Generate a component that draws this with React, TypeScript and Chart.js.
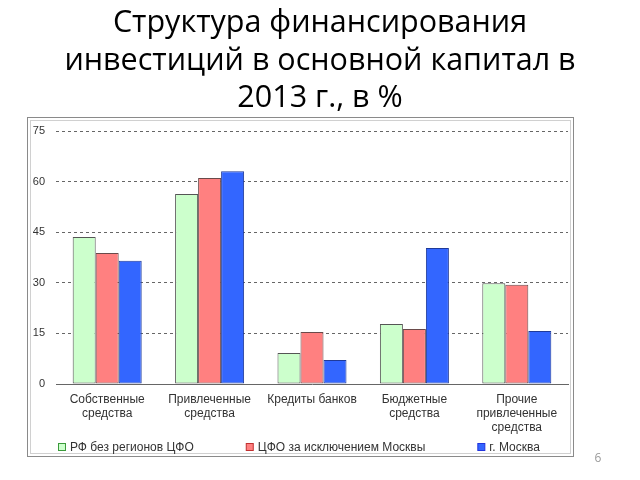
import { useEffect, useRef } from "react";
import { Chart, registerables } from "chart.js";

Chart.register(...registerables);

const titleLines = ["Структура финансирования", "инвестиций в основной капитал в", "2013 г., в %"];
const categories = [
  ["Собственные", "средства"],
  ["Привлеченные", "средства"],
  ["Кредиты банков"],
  ["Бюджетные", "средства"],
  ["Прочие", "привлеченные", "средства"],
];
const seriesNames = ["РФ без регионов ЦФО", "ЦФО за исключением Москвы", "г. Москва"];
const rfValues = [43.6, 56.3, 9.2, 17.8, 29.9];
const cfoValues = [38.8, 61.1, 15.4, 16.3, 29.4];
const moscowValues = [36.5, 63.1, 7.1, 40.3, 15.7];
const yMin = 0;
const yMax = 75;
const yStep = 15;
const pageNumber = "6";

const fills = ["#CCFFCC", "#FF8080", "#3366FF"];
const borders = ["#555555", "#6a4a4a", "#1f3a99"];
const legendBorders = ["#3a9a3a", "#c03030", "#2233dd"];

const decorPlugin = {
  id: "decor",
  beforeDraw(chart: any) {
    const ctx = chart.ctx;
    ctx.save();
    ctx.fillStyle = "#ffffff";
    ctx.fillRect(0, 0, chart.width, chart.height);
    // frame
    ctx.strokeStyle = "#8a8a8a";
    ctx.lineWidth = 1;
    ctx.strokeRect(27.5, 117.5, 546, 339);
    ctx.strokeStyle = "#d0d0d0";
    ctx.strokeRect(30.5, 120.5, 540, 333);
    // title
    ctx.fillStyle = "#000000";
    ctx.font = "30.5px 'Open Sans'";
    ctx.textAlign = "center";
    ctx.textBaseline = "alphabetic";
    const baselines = [32, 70, 107];
    titleLines.forEach((t, i) => ctx.fillText(t, 320, baselines[i]));
    // page number
    ctx.fillStyle = "#9a9a9a";
    ctx.font = "12px 'Open Sans'";
    ctx.fillText(pageNumber, 598, 462);
    ctx.restore();
  },
  afterDraw(chart: any) {
    // legend
    const ctx = chart.ctx;
    ctx.save();
    ctx.font = "12px 'Liberation Sans'";
    ctx.textBaseline = "middle";
    ctx.textAlign = "left";
    const box = 8;
    const gapText = 4;
    const gapItems = 52;
    const names = chart.data.datasets.map((d: any) => d.label);
    const widths = names.map((n: string) => box + gapText + ctx.measureText(n).width);
    let x = Math.round(chart.chartArea.left + 2);
    const y = 447;
    names.forEach((n: string, i: number) => {
      ctx.fillStyle = fills[i];
      ctx.fillRect(x + 0.5, y - 4 + 0.5, box - 1, box - 1);
      ctx.strokeStyle = legendBorders[i];
      ctx.lineWidth = 1;
      ctx.strokeRect(x + 0.5, y - 4 + 0.5, box - 1, box - 1);
      ctx.fillStyle = "#333333";
      ctx.fillText(n, x + box + gapText, y + 0.5);
      x += widths[i] + gapItems;
    });
    ctx.restore();
  },
};

export default function App() {
  const ref = useRef<HTMLCanvasElement | null>(null);
  useEffect(() => {
    if (!ref.current) return;
    const datasets = [rfValues, cfoValues, moscowValues].map((d, i) => ({
      label: seriesNames[i],
      data: d,
      backgroundColor: fills[i],
      borderColor: borders[i],
      borderWidth: 1,
      borderSkipped: false as const,
      categoryPercentage: 0.674,
      barPercentage: 1,
    }));
    const chart = new Chart(ref.current, {
      type: "bar",
      data: { labels: categories, datasets },
      options: {
        animation: false,
        responsive: false,
        devicePixelRatio: 1,
        layout: { padding: { top: 131, left: 28, right: 72, bottom: 46 } },
        plugins: {
          title: { display: false },
          tooltip: { enabled: false },
          legend: { display: false },
        },
        scales: {
          x: {
            grid: { display: false, drawTicks: false },
            border: { display: true, color: "#666666", width: 1 },
            ticks: {
              color: "#333333",
              padding: 8,
              font: { family: "'Liberation Sans'", size: 12, lineHeight: 1.2 },
              maxRotation: 0,
              autoSkip: false,
            },
            afterFit: (s: any) => {
              s.height = 50;
            },
          },
          y: {
            min: yMin,
            max: yMax,
            grid: { color: "#666666", lineWidth: 1, drawTicks: false },
            border: { display: false, dash: [3, 3] },
            ticks: {
              stepSize: yStep,
              color: "#333333",
              padding: 11,
              font: { family: "'Liberation Sans'", size: 11 },
            },
            afterFit: (s: any) => {
              s.width = 28;
            },
          },
        },
      },
      plugins: [decorPlugin],
    });
    return () => chart.destroy();
  }, []);
  return (
    <div style={{ position: "absolute", left: 0, top: 0, width: 640, height: 480 }}>
      <canvas ref={ref} width={640} height={480} style={{ width: 640, height: 480, display: "block" }} />
    </div>
  );
}
